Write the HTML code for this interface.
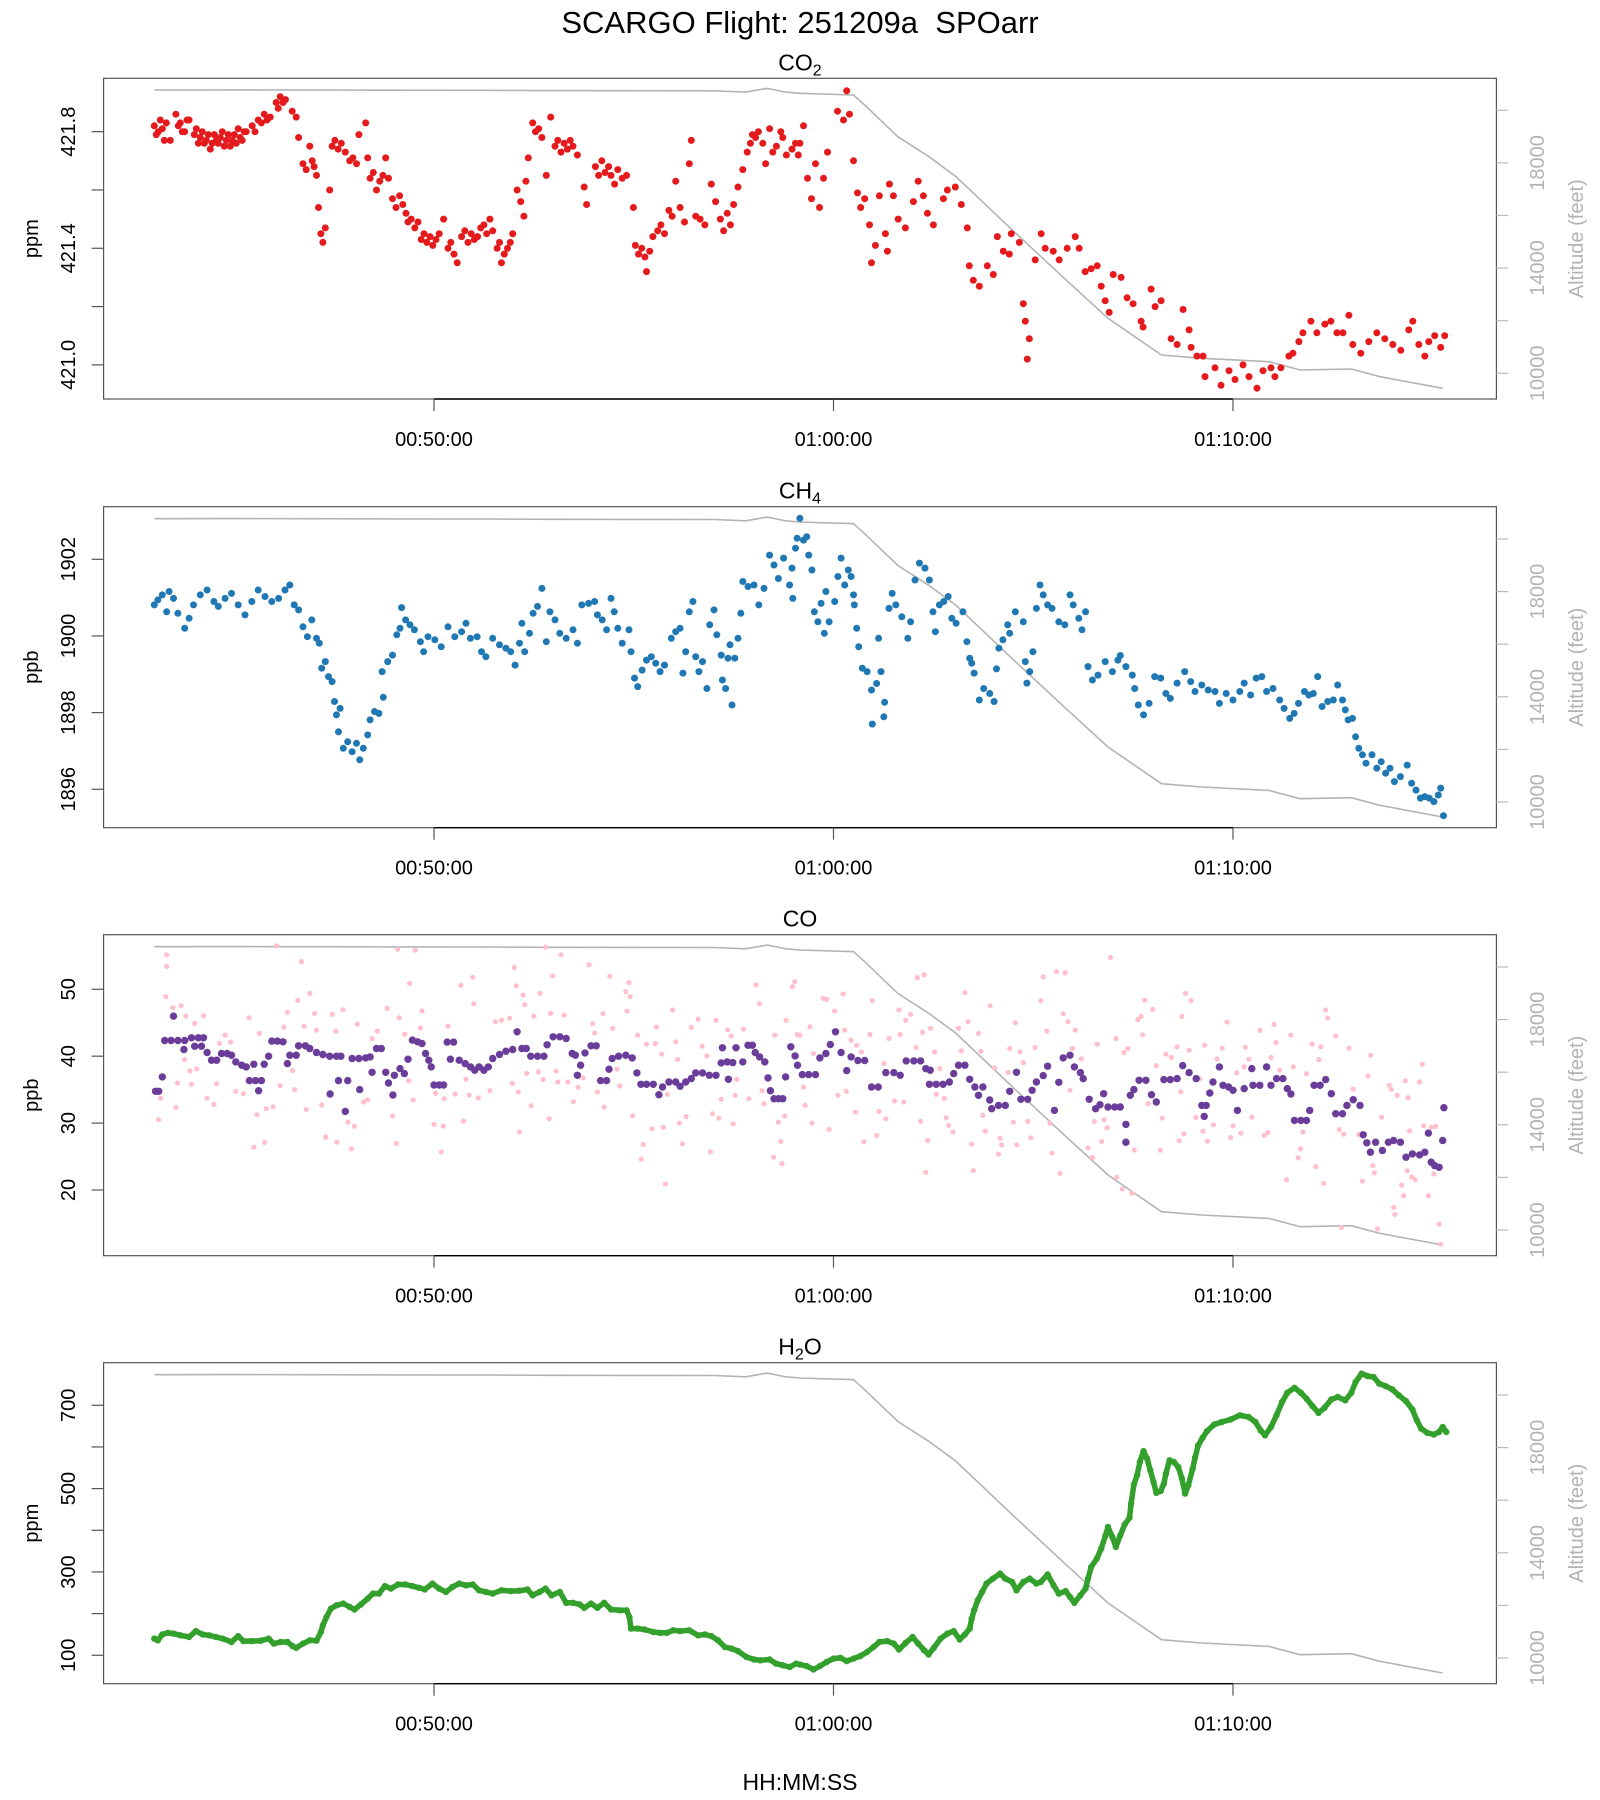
<!DOCTYPE html>
<html><head><meta charset="utf-8"><style>
html,body{margin:0;padding:0;background:#fff;}
svg{display:block;font-family:"Liberation Sans",Arial,sans-serif;}
</style></head><body>
<svg id="chart" width="1600" height="1800" viewBox="0 0 1600 1800" xmlns="http://www.w3.org/2000/svg">
<rect x="0" y="0" width="1600" height="1800" fill="#fff"/>
<text x="800" y="33" font-size="31" text-anchor="middle" fill="#000">SCARGO Flight: 251209a&#160; SPOarr</text>
<text x="800" y="1790" font-size="23" text-anchor="middle" fill="#000">HH:MM:SS</text>
<g id="layer"></g>
</svg>
<script>
// ---- altitude (shared) ----
const altTimes=[43.0,45.0,47.0,49.0,51.0,53.0,55.0,57.0,57.8,58.34,58.8,59.16,60.5,60.78,61.61,62.39,63.07,64.52,65.87,66.87,68.21,69.22,70.9,71.68,72.96,73.68,75.25];
const altFeet=[20771,20775,20770,20765,20760,20750,20745,20740,20690,20830,20690,20646,20581,20201,18996,18235,17475,15384,13483,12091,10696,10570,10441,10125,10163,9871,9430];
// ---- CO2 ----
const co2Times=[43.00,43.05,43.10,43.15,43.20,43.25,43.30,43.40,43.54,43.60,43.65,43.70,43.76,43.82,43.87,44.00,44.05,44.10,44.15,44.20,44.25,44.30,44.35,44.40,44.45,44.50,44.55,44.60,44.65,44.70,44.75,44.80,44.85,44.90,44.95,45.00,45.05,45.10,45.15,45.20,45.25,45.30,45.45,45.52,45.60,45.68,45.75,45.82,45.90,46.05,46.10,46.15,46.22,46.28,46.45,46.55,46.61,46.72,46.80,46.89,46.95,47.00,47.06,47.11,47.17,47.22,47.28,47.39,47.45,47.52,47.60,47.68,47.78,47.89,47.97,48.06,48.12,48.29,48.34,48.40,48.48,48.56,48.64,48.72,48.79,48.86,48.96,49.05,49.14,49.22,49.30,49.35,49.43,49.52,49.60,49.68,49.75,49.82,49.90,49.97,50.05,50.13,50.24,50.35,50.42,50.50,50.58,50.69,50.77,50.85,50.93,51.01,51.09,51.17,51.25,51.32,51.40,51.47,51.58,51.64,51.69,51.76,51.84,51.91,51.97,52.08,52.17,52.25,52.30,52.36,52.47,52.54,52.62,52.70,52.81,52.92,53.03,53.10,53.18,53.26,53.34,53.41,53.48,53.59,53.76,53.82,54.04,54.12,54.20,54.28,54.37,54.43,54.52,54.60,54.71,54.82,54.99,
55.04,55.12,55.20,55.32,55.28,55.40,55.48,55.60,55.68,55.77,55.88,55.96,56.05,56.16,56.27,56.39,56.44,56.55,56.66,56.78,56.94,57.05,57.17,57.25,57.34,57.42,57.50,57.61,57.73,57.84,57.92,57.97,58.05,58.12,58.23,58.30,58.40,58.48,58.57,58.68,58.73,58.82,58.96,59.05,59.12,
59.16,59.25,59.35,59.45,59.55,59.65,59.75,59.85,60.10,60.33,60.25,60.40,60.50,60.60,60.68,60.78,60.90,60.95,61.05,61.15,61.30,61.35,61.40,61.50,61.62,61.80,62.00,62.12,62.25,62.35,62.50,62.75,62.85,63.05,63.20,63.35,63.40,63.50,63.65,63.85,64.00,64.10,64.25,64.40,64.45,64.65,64.75,64.80,64.90,64.85,65.05,65.20,65.30,65.50,65.65,65.85,66.05,66.15,66.30,66.45,66.60,66.70,66.80,66.90,67.00,67.20,67.35,67.50,67.70,67.75,67.95,68.05,68.20,68.45,68.60,68.75,68.90,68.95,69.25,69.30,69.10,69.55,69.70,69.90,70.05,70.25,70.40,70.60,70.75,70.95,71.05,71.20,71.40,71.50,71.65,71.75,71.95,72.10,72.30,72.45,72.60,72.75,72.90,73.00,73.20,73.40,73.60,73.80,74.00,74.20,74.40,74.50,74.65,74.80,74.90,75.05,75.20,75.30];
const co2Values=[421.82,421.79,421.80,421.84,421.81,421.77,421.83,421.77,421.86,421.82,421.83,421.80,421.80,421.84,421.84,421.79,421.81,421.76,421.78,421.80,421.76,421.77,421.79,421.74,421.76,421.79,421.77,421.76,421.78,421.80,421.75,421.77,421.79,421.75,421.77,421.79,421.76,421.81,421.78,421.77,421.80,421.80,421.82,421.80,421.84,421.83,421.86,421.84,421.85,421.90,421.88,421.92,421.90,421.91,421.87,421.85,421.78,421.69,421.67,421.75,421.70,421.68,421.65,421.54,421.45,421.42,421.47,421.60,421.75,421.77,421.74,421.76,421.73,421.70,421.71,421.69,421.79,421.83,421.71,421.64,421.66,421.60,421.63,421.65,421.71,421.64,421.57,421.54,421.58,421.55,421.52,421.49,421.50,421.47,421.49,421.43,421.45,421.42,421.44,421.41,421.43,421.45,421.50,421.40,421.42,421.38,421.35,421.44,421.46,421.42,421.45,421.43,421.44,421.47,421.48,421.45,421.50,421.46,421.40,421.42,421.35,421.38,421.40,421.42,421.45,421.60,421.56,421.51,421.63,421.71,421.83,421.80,421.81,421.78,421.65,421.85,421.75,421.77,421.73,421.76,421.74,421.77,421.75,421.72,421.61,421.55,421.68,421.65,421.70,421.66,421.68,421.65,421.62,421.67,421.64,421.65,421.54,
421.41,421.38,421.40,421.32,421.37,421.39,421.44,421.46,421.48,421.45,421.53,421.51,421.63,421.54,421.49,421.69,421.77,421.51,421.50,421.48,421.62,421.56,421.50,421.46,421.52,421.48,421.55,421.61,421.67,421.73,421.76,421.79,421.78,421.80,421.76,421.69,421.81,421.73,421.75,421.80,421.78,421.72,421.74,421.76,421.72,
421.76,421.82,421.64,421.57,421.69,421.54,421.64,421.73,421.87,421.94,421.84,421.86,421.70,421.59,421.54,421.57,421.48,421.35,421.41,421.58,421.45,421.39,421.62,421.58,421.50,421.47,421.56,421.63,421.58,421.52,421.48,421.57,421.60,421.61,421.55,421.47,421.34,421.29,421.27,421.34,421.31,421.44,421.39,421.38,421.45,421.42,421.21,421.15,421.09,421.02,421.36,421.45,421.40,421.39,421.36,421.40,421.44,421.40,421.32,421.33,421.34,421.27,421.22,421.18,421.31,421.30,421.23,421.21,421.15,421.13,421.26,421.20,421.22,421.09,421.07,421.19,421.12,421.06,421.03,420.96,421.03,420.99,420.93,420.98,420.95,421.00,420.96,420.92,420.98,420.99,420.96,420.99,421.03,421.04,421.08,421.11,421.15,421.11,421.14,421.15,421.11,421.11,421.17,421.07,421.04,421.08,421.11,421.09,421.07,421.05,421.12,421.15,421.07,421.03,421.08,421.10,421.06,421.10];
// ---- CH4 ----
const ch4Times=[43.00,43.09,43.20,43.31,43.37,43.48,43.59,43.76,43.87,43.98,44.15,44.32,44.49,44.60,44.77,44.93,45.10,45.27,45.44,45.60,45.77,45.94,46.11,46.27,46.39,46.50,46.61,46.72,46.83,46.94,47.06,47.13,47.19,47.28,47.36,47.45,47.51,47.56,47.65,47.61,47.73,47.84,47.95,48.06,48.14,48.23,48.34,48.40,48.51,48.62,48.73,48.70,48.84,48.96,49.07,49.15,49.19,49.29,49.40,49.51,49.66,49.74,49.85,50.02,50.18,50.35,50.52,50.69,50.80,50.91,51.08,51.19,51.30,51.47,51.64,51.80,51.92,52.03,52.14,52.20,52.27,52.39,52.48,52.59,52.70,52.81,52.90,53.03,53.15,53.31,53.48,53.59,53.70,53.87,54.02,54.09,54.21,54.32,54.43,54.51,54.60,54.71,54.88,54.93,55.02,55.10,55.21,55.32,55.44,55.55,55.66,55.77,55.94,56.05,56.16,56.23,56.30,56.39,56.48,56.55,56.63,56.72,56.83,56.90,57.01,57.08,57.19,57.22,57.30,57.36,57.41,57.46,57.53,57.61,57.68,57.73,57.86,58.01,58.13,58.26,58.40,58.51,58.62,58.75,58.90,58.96,58.98,59.05,59.09,
59.16,59.25,59.33,59.38,59.46,59.52,59.61,59.69,59.77,59.81,59.89,60.03,60.11,60.19,60.28,60.37,60.44,60.50,60.52,60.58,60.63,60.72,60.84,60.95,60.97,61.08,61.13,61.19,61.28,61.26,61.39,61.47,61.56,61.71,61.86,61.93,62.04,62.15,62.29,62.40,62.49,62.55,62.65,62.76,62.87,62.96,63.07,63.24,63.34,63.41,63.46,63.52,63.65,63.76,63.91,64.02,64.08,64.14,64.24,64.36,64.41,64.55,64.75,64.80,64.84,64.91,64.99,65.08,65.17,65.25,65.36,65.47,65.64,65.79,65.92,66.00,66.14,66.22,66.31,66.37,66.48,66.62,66.80,66.98,67.12,67.18,67.32,67.48,67.54,67.63,67.76,67.90,68.04,68.19,68.32,68.43,68.60,68.79,68.94,69.05,69.22,69.38,69.55,69.66,69.83,70.00,70.17,70.28,70.44,70.58,70.72,70.84,71.00,71.17,71.28,71.42,71.53,71.64,71.79,71.90,72.01,72.12,72.23,72.37,72.51,72.62,72.74,72.81,72.88,72.99,73.07,73.15,73.24,73.33,73.48,73.60,73.71,73.82,73.93,74.04,74.19,74.36,74.47,74.58,74.69,74.80,74.91,75.03,75.14,75.20,75.27];
const ch4Values=[1900.81,1900.94,1901.07,1900.63,1901.16,1900.98,1900.59,1900.20,1900.46,1900.81,1901.07,1901.20,1900.90,1900.77,1900.98,1901.11,1900.81,1900.55,1900.90,1901.20,1901.03,1900.90,1900.98,1901.20,1901.33,1900.81,1900.68,1900.24,1899.98,1900.42,1899.94,1899.81,1899.16,1899.33,1898.94,1898.81,1898.29,1897.94,1898.11,1897.50,1897.07,1897.24,1896.98,1897.20,1896.77,1897.07,1897.42,1897.81,1898.03,1897.98,1898.40,1899.07,1899.33,1899.50,1900.03,1900.20,1900.74,1900.42,1900.29,1900.16,1899.85,1899.59,1899.98,1899.90,1899.72,1900.24,1899.98,1900.11,1900.33,1899.94,1899.98,1899.59,1899.46,1899.94,1899.77,1899.68,1899.59,1899.24,1899.81,1900.33,1899.59,1900.07,1900.59,1900.77,1901.24,1899.85,1900.63,1900.42,1900.07,1899.94,1900.16,1899.81,1900.81,1900.85,1900.90,1900.55,1900.42,1900.16,1900.98,1900.63,1900.20,1899.81,1900.16,1899.59,1898.90,1898.68,1899.11,1899.37,1899.46,1899.29,1899.07,1899.24,1899.94,1900.11,1900.20,1899.03,1899.59,1900.63,1900.90,1899.46,1899.07,1899.33,1898.63,1900.29,1900.68,1900.03,1899.50,1898.85,1898.63,1899.42,1899.77,1898.20,1899.42,1899.94,1900.59,1901.42,1901.29,1901.33,1900.81,1901.24,1902.11,1901.85,1901.50,1902.03,1901.33,1901.77,1900.98,1902.29,1902.55,
1903.07,1902.50,1902.59,1902.11,1901.72,1900.63,1900.37,1900.85,1900.07,1901.16,1900.37,1900.90,1901.55,1902.03,1901.33,1901.72,1901.55,1901.07,1900.81,1900.20,1899.72,1899.16,1899.07,1898.59,1897.70,1898.76,1899.94,1899.07,1898.27,1897.89,1900.72,1901.11,1900.81,1900.50,1899.94,1900.37,1901.46,1901.90,1901.77,1901.46,1900.63,1900.11,1900.81,1900.90,1901.03,1900.46,1900.33,1900.63,1899.85,1899.42,1899.29,1899.03,1898.33,1898.63,1898.50,1898.29,1899.14,1899.68,1899.90,1900.29,1900.07,1900.63,1900.37,1899.33,1898.77,1899.07,1899.59,1900.72,1901.33,1901.07,1900.81,1900.72,1900.37,1900.29,1901.07,1900.81,1900.46,1900.16,1900.63,1899.20,1898.85,1898.98,1899.33,1899.07,1899.37,1899.49,1899.20,1898.98,1898.63,1898.20,1897.94,1898.24,1898.94,1898.90,1898.50,1898.37,1898.77,1899.07,1898.81,1898.55,1898.72,1898.59,1898.55,1898.24,1898.50,1898.33,1898.55,1898.77,1898.46,1898.90,1898.94,1898.55,1898.63,1898.33,1898.11,1897.85,1897.98,1898.24,1898.55,1898.46,1898.50,1898.94,1898.16,1898.29,1898.33,1898.72,1898.33,1898.07,1897.81,1897.85,1897.37,1897.07,1896.90,1896.68,1896.90,1896.55,1896.72,1896.42,1896.55,1896.20,1896.33,1896.63,1896.16,1895.98,1895.77,1895.81,1895.77,1895.68,1895.85,1896.03,1895.31];
// ---- CO (1 Hz, pink) ----
const coRawTimes=[43.31,43.31,43.29,43.46,43.67,43.79,44.01,44.23,43.11,43.16,43.54,43.58,43.76,43.89,43.93,44.06,44.32,44.49,44.56,44.63,44.77,44.91,45.04,45.23,45.37,45.49,45.57,45.63,45.76,45.80,45.97,46.06,46.15,46.24,46.33,46.46,46.51,46.59,46.68,46.75,46.80,46.89,47.01,47.06,47.19,47.29,47.46,47.54,47.57,47.72,47.85,47.93,48.01,48.08,48.24,48.34,48.45,48.58,48.83,48.96,49.06,49.09,49.13,49.27,49.37,49.39,49.48,49.53,49.66,49.70,50.00,50.04,50.18,50.23,50.26,50.35,50.53,50.67,50.74,50.80,50.88,50.97,51.00,51.11,51.40,51.54,51.69,51.89,51.96,52.01,52.06,52.11,52.14,52.23,52.27,52.32,52.43,52.50,52.61,52.65,52.73,52.79,52.88,52.92,52.97,53.06,53.10,53.18,53.26,53.35,53.49,53.61,53.73,53.88,53.97,54.02,54.09,54.23,54.26,54.40,54.47,54.58,54.65,54.80,54.83,54.88,54.91,54.97,55.10,55.19,55.24,55.32,55.46,55.54,55.57,55.70,55.74,55.79,55.84,55.97,56.05,56.10,56.14,56.22,56.31,56.44,56.61,56.71,56.83,56.92,56.97,57.06,57.13,57.19,57.35,57.44,57.49,57.54,57.58,57.75,57.88,58.06,58.15,58.21,58.26,58.50,58.53,58.62,58.68,58.71,58.78,58.81,58.97,59.03,59.09,
59.16,59.25,59.29,59.41,59.46,59.50,59.74,59.83,59.89,60.03,60.11,60.24,60.28,60.32,60.44,60.55,60.58,60.70,60.76,60.91,60.97,61.08,61.14,61.26,61.31,61.39,61.53,61.64,61.67,61.76,61.81,61.93,62.07,62.10,62.18,62.23,62.27,62.31,62.36,62.43,62.53,62.57,62.66,62.77,62.82,62.88,62.99,63.13,63.20,63.29,63.37,63.46,63.50,63.63,63.69,63.74,63.80,63.92,64.03,64.13,64.17,64.21,64.37,64.41,64.50,64.55,64.59,64.67,64.75,64.86,64.94,65.05,65.19,65.25,65.34,65.42,65.47,65.58,65.67,65.75,65.80,65.87,65.92,65.98,66.05,66.20,66.37,66.48,66.53,66.60,66.71,66.77,66.85,66.93,67.07,67.09,67.23,67.27,67.37,67.47,67.53,67.62,67.70,67.74,67.79,67.88,67.99,68.08,68.18,68.23,68.32,68.46,68.60,68.65,68.69,68.72,68.77,68.81,68.90,68.95,69.07,69.17,69.25,69.29,69.36,69.51,69.60,69.73,69.85,69.94,70.00,70.09,70.20,70.28,70.31,70.40,70.47,70.67,70.78,70.87,70.95,71.03,71.08,71.17,71.34,71.45,71.51,71.63,71.69,71.75,71.84,71.98,72.07,72.15,72.20,72.27,72.32,72.37,72.57,72.66,72.71,72.77,72.90,73.01,73.15,73.24,73.38,73.45,73.50,73.54,73.62,73.72,73.91,73.96,74.02,74.05,74.11,74.22,74.27,74.31,74.36,74.38,74.42,74.47,74.56,74.67,74.74,74.77,74.89,74.96,75.03,75.07,75.16,75.20];
const coRawValues=[55.15,53.4,48.9,47.25,47.55,46.0,44.9,46.05,30.5,33.7,32.35,36.0,39.5,37.8,35.8,38.1,33.7,32.8,35.9,41.9,43.15,42.1,34.75,34.4,45.75,26.4,31.25,43.4,27.1,32.15,32.45,56.5,35.6,44.35,46.55,37.85,35.0,48.35,54.15,44.5,32.05,49.4,46.4,43.9,32.7,27.9,46.25,43.75,27.15,46.95,30.15,26.15,29.5,44.8,33.15,33.5,42.65,43.75,47.15,31.05,26.95,56.0,45.75,43.3,36.3,50.9,33.45,55.85,44.2,46.75,29.8,34.45,25.7,29.55,33.65,44.5,34.35,50.6,30.3,36.55,34.2,51.8,47.85,33.75,34.85,45.15,45.4,45.7,35.95,53.25,50.5,34.65,28.65,49.15,47.7,37.45,32.6,46.0,37.65,49.4,36.5,56.3,30.65,46.4,52.0,37.75,36.15,55.15,46.15,36.15,33.2,35.35,36.75,53.65,44.85,43.45,34.65,46.35,32.4,51.95,44.15,38.05,35.55,49.65,46.75,51.0,48.9,31.1,43.15,24.6,26.8,41.8,29.15,41.9,44.35,40.3,29.35,20.9,34.3,46.9,42.15,39.5,30.0,26.9,30.95,44.3,45.55,41.5,40.05,25.7,31.4,45.35,30.75,33.55,43.95,43.05,29.9,34.15,36.55,44.05,33.65,50.65,47.85,34.85,32.9,24.9,43.15,30.15,27.25,23.95,31.05,45.35,50.4,51.15,43.25,
43.15,35.4,32.65,44.4,30.0,40.4,48.65,48.5,29.05,46.75,34.15,49.3,43.9,34.75,42.4,31.65,41.65,40.65,27.2,43.25,48.3,28.15,31.75,38.9,30.65,42.65,33.3,46.9,43.25,33.15,45.35,46.25,41.3,51.75,30.25,43.55,52.15,22.65,27.4,44.15,40.65,34.3,38.15,33.7,30.8,29.65,28.65,44.15,40.8,49.5,45.15,26.85,22.9,43.4,40.75,31.15,28.8,47.55,38.25,25.35,27.75,26.75,37.6,41.15,30.15,45.0,26.75,40.65,39.05,30.25,27.8,41.3,48.3,51.85,43.75,30.0,25.5,52.65,22.5,46.35,52.45,45.15,34.9,41.15,43.9,39.6,26.3,24.85,30.25,41.8,27.25,30.5,29.3,54.75,42.65,21.9,20.15,40.55,41.15,19.5,26.0,45.5,45.95,43.2,48.35,32.9,47.0,38.6,25.95,30.75,40.3,39.8,41.4,27.35,34.7,45.95,28.4,49.4,40.9,48.3,30.85,36.6,28.8,41.65,27.3,29.75,39.6,41.2,45.1,27.85,29.6,37.5,28.5,38.4,41.35,39.55,30.9,43.85,28.15,28.6,39.8,44.75,42.05,37.9,21.55,43.15,38.4,24.8,26.15,28.7,37.4,41.8,23.5,39.5,41.4,21.0,46.9,45.7,43.05,29.05,14.4,28.35,41.2,35.1,28.3,21.35,37.05,40.15,23.65,22.55,14.2,30.9,35.65,35.05,17.4,16.35,34.15,20.75,19.15,36.3,22.85,33.8,28.85,21.95,21.55,36.15,38.8,29.6,19.15,29.4,22.4,29.5,14.9,11.9];
// ---- CO (averaged, purple) ----
const coAvgTimes=[43.03,43.11,43.20,43.48,43.26,43.42,43.59,43.76,43.74,43.93,44.10,44.23,44.01,44.18,44.32,44.43,44.56,44.68,44.82,44.93,45.04,45.19,45.30,45.38,45.53,45.68,45.61,45.49,45.75,45.86,45.94,46.08,46.22,46.33,46.39,46.55,46.61,46.78,46.89,47.06,47.22,47.39,47.56,47.67,47.40,47.61,47.84,47.78,47.95,48.12,48.29,48.40,48.14,48.45,48.56,48.68,48.79,48.86,48.97,49.01,49.15,49.26,49.35,49.46,49.59,49.70,49.79,49.87,49.93,50.00,50.13,50.24,50.33,50.49,50.41,50.63,50.78,50.91,51.02,51.13,51.25,51.36,51.47,51.64,51.80,51.97,52.08,52.20,52.31,52.42,52.59,52.75,52.83,52.98,53.15,53.31,53.46,53.54,53.59,53.67,53.78,53.93,54.06,54.17,54.32,54.38,54.46,54.62,54.80,54.96,55.08,55.18,55.32,55.49,55.63,55.72,55.88,56.05,56.16,56.30,56.44,56.55,56.72,56.89,57.06,57.22,57.19,57.37,57.34,57.48,57.56,57.73,57.86,57.97,58.04,58.15,58.28,58.36,58.42,58.51,58.62,58.73,58.80,58.93,59.04,59.10,
59.22,59.38,59.55,59.66,59.81,59.92,60.05,60.19,60.33,60.44,60.61,60.78,60.95,61.12,61.31,61.51,61.67,61.82,62.01,62.18,62.31,62.42,62.40,62.57,62.74,62.90,63.01,63.13,63.29,63.41,63.54,63.63,63.74,63.91,63.96,64.13,64.30,64.41,64.58,64.69,64.86,64.97,65.08,65.25,65.36,65.53,65.64,65.75,65.92,66.03,66.18,66.25,66.40,66.56,66.67,66.76,66.87,67.04,67.18,67.32,67.32,67.43,67.52,67.65,67.82,67.96,68.08,68.27,68.43,68.60,68.74,68.90,69.08,69.22,69.33,69.28,69.42,69.50,69.66,69.75,69.89,70.00,70.11,70.28,70.47,70.50,70.67,70.84,70.95,71.09,71.25,71.36,71.45,71.54,71.70,71.84,71.92,72.03,72.18,72.32,72.46,72.57,72.74,72.85,73.01,73.18,73.26,73.35,73.44,73.57,73.74,73.89,74.02,74.19,74.33,74.49,74.67,74.80,74.89,74.96,75.05,75.16,75.25,75.28];
const coAvgValues=[34.75,34.75,36.9,46.0,42.35,42.35,42.35,42.35,41.0,42.75,42.75,42.75,41.5,41.5,40.55,39.4,39.4,40.4,40.4,40.15,39.15,38.65,38.4,36.35,36.35,36.35,34.85,38.8,38.8,40.0,42.25,42.25,42.15,38.9,40.15,40.15,41.55,41.55,41.15,40.55,40.25,40.0,40.0,40.0,34.35,36.35,36.35,31.75,39.65,39.65,39.75,39.9,35.0,37.6,41.15,41.15,37.6,36.0,34.2,37.15,38.15,37.4,39.55,42.4,42.15,41.9,40.4,39.4,38.4,35.7,35.7,35.7,42.1,42.1,39.55,39.4,38.9,38.4,37.9,38.4,37.9,38.4,39.65,40.25,40.75,41.0,43.65,41.15,41.15,40.0,40.0,40.0,41.7,42.9,42.9,42.65,40.4,40.15,37.15,38.65,40.5,41.55,41.55,36.35,36.35,38.05,39.65,40.0,40.15,39.75,37.5,35.8,35.8,35.8,34.25,35.4,36.15,36.15,35.5,36.15,36.65,37.5,37.5,37.15,37.15,41.25,39.0,36.55,39.15,39.05,41.25,39.15,41.65,41.65,40.55,39.9,39.15,36.75,34.85,33.65,33.65,33.65,36.9,41.4,40.05,38.65,
37.25,37.25,37.25,39.75,40.4,41.75,43.65,40.55,37.85,39.9,39.35,39.35,35.4,35.4,37.55,37.55,37.15,39.3,39.3,39.3,38.15,37.9,35.8,35.8,35.8,36.15,37.4,38.65,38.65,36.55,35.4,34.15,35.4,33.45,32.15,32.65,32.65,34.75,37.6,33.55,33.55,34.9,36.15,37.1,38.5,31.9,36.1,39.75,40.15,38.4,37.55,36.65,33.55,32.15,32.75,34.4,32.4,32.4,32.4,29.8,27.15,34.15,35.0,36.4,36.4,34.25,33.15,36.5,36.5,36.65,38.6,37.55,36.65,32.65,32.65,31.0,34.5,36.15,38.4,35.65,35.4,34.9,31.9,35.15,38.15,35.65,35.65,38.4,35.65,36.65,36.65,35.15,34.35,30.4,30.4,30.4,31.9,35.65,35.65,36.5,34.4,31.4,31.4,32.65,33.5,32.65,28.25,27.05,25.65,27.15,25.9,27.15,27.4,27.15,24.9,25.4,25.25,25.65,28.5,24.15,23.65,23.4,27.4,32.3];
// ---- H2O ----
const h2oTimes=[43.00,43.09,43.20,43.34,43.48,43.65,43.87,44.04,44.21,44.37,44.54,44.71,44.93,45.10,45.23,45.44,45.66,45.86,45.99,46.16,46.33,46.46,46.55,46.72,46.89,47.06,47.17,47.22,47.31,47.42,47.56,47.73,47.89,48.01,48.17,48.34,48.47,48.62,48.77,48.92,49.10,49.29,49.46,49.63,49.77,49.96,50.13,50.30,50.46,50.63,50.80,50.97,51.13,51.30,51.47,51.69,51.92,52.14,52.34,52.47,52.64,52.79,52.94,53.15,53.31,53.48,53.65,53.76,53.93,54.09,54.26,54.43,54.65,54.82,54.89,54.93,55.10,55.27,55.49,55.66,55.83,55.99,56.16,56.39,56.61,56.78,56.94,57.11,57.28,57.45,57.61,57.82,58.01,58.17,58.40,58.56,58.73,58.90,59.07,
59.16,59.33,59.50,59.66,59.83,60.00,60.17,60.33,60.50,60.67,60.84,61.00,61.15,61.34,61.51,61.64,61.81,61.98,62.12,62.27,62.38,62.51,62.68,62.85,63.01,63.16,63.29,63.41,63.46,63.52,63.61,63.72,63.83,63.99,64.17,64.30,64.47,64.58,64.75,64.91,65.08,65.19,65.36,65.51,65.64,65.81,65.92,66.03,66.18,66.31,66.37,66.45,66.59,66.70,66.81,66.87,66.98,67.07,67.18,67.29,67.41,67.45,67.52,67.60,67.67,67.76,67.85,67.93,68.01,68.08,68.19,68.27,68.32,68.41,68.52,68.63,68.72,68.80,68.88,68.99,69.05,69.13,69.24,69.35,69.53,69.72,69.94,70.17,70.39,70.56,70.69,70.80,70.95,71.09,71.23,71.36,71.54,71.70,71.84,71.99,72.14,72.29,72.46,72.62,72.81,72.96,73.07,73.22,73.37,73.52,73.66,73.82,73.99,74.15,74.33,74.49,74.60,74.71,74.86,75.03,75.16,75.25,75.34];
const h2oValues=[140,136,150,154,152,148,144,158,150,148,144,140,132,146,134,134,135,140,128,132,132,122,118,128,136,135,156,172,192,212,220,224,216,210,222,236,248,248,266,260,270,270,266,262,258,272,260,252,264,272,268,270,256,252,248,256,254,255,258,244,252,260,244,252,226,226,222,214,224,214,226,210,208,208,192,164,164,162,156,154,154,160,158,160,148,150,146,136,120,116,110,96,90,88,90,80,76,72,80,
78,74,66,74,84,92,94,86,92,98,108,120,132,134,128,114,130,144,128,112,102,118,140,152,158,138,150,164,188,208,232,252,272,284,296,284,276,256,276,284,272,276,294,268,248,254,240,226,244,260,284,312,332,356,388,408,384,360,388,414,430,464,510,532,564,590,572,544,516,490,494,512,536,568,564,552,524,488,508,548,574,604,622,638,654,660,666,676,672,660,640,628,648,676,708,730,742,730,716,698,682,694,714,720,712,730,756,776,770,768,752,746,738,724,710,690,664,644,634,630,636,648,636];

// ---- layout ----
const NS="http://www.w3.org/2000/svg";
const layer=document.getElementById('layer');
const X0=103.6,X1=1496.4;
function xScale(t){return 434+(t-50)*39.95;}
function mk(tag,attrs,parent){const e=document.createElementNS(NS,tag);for(const k in attrs)e.setAttribute(k,attrs[k]);(parent||layer).appendChild(e);return e;}
function altY(p,a){return p.bottom-25.7-(a-10000)/38.02;}

const panels=[
 {key:'co2',top:78.3,bottom:399,ymin:420.883,ymax:421.983,ticks:[421.0,421.2,421.4,421.6,421.8],labels:['421.0','','421.4','','421.8'],unit:'ppm',title:['CO','2','']},
 {key:'ch4',top:506.7,bottom:827.7,ymin:1894.998,ymax:1903.372,ticks:[1896,1898,1900,1902],labels:['1896','1898','1900','1902'],unit:'ppb',title:['CH','4','']},
 {key:'co',top:934.7,bottom:1255.7,ymin:10.18,ymax:58.16,ticks:[20,30,40,50],labels:['20','30','40','50'],unit:'ppb',title:['CO','','']},
 {key:'h2o',top:1362.7,bottom:1683.7,ymin:31.8,ymax:802.2,ticks:[100,200,300,400,500,600,700],labels:['100','','300','','500','','700'],unit:'ppm',title:['H','2','O']}
];
const altTicks=[10000,12000,14000,16000,18000,20000];
const altLabels=['10000','','14000','','18000',''];
const xTicks=[50,60,70];
const xLabels=['00:50:00','01:00:00','01:10:00'];

panels.forEach(p=>{
  const g=mk('g',{});
  
  
  const yS=v=>p.top+(p.ymax-v)/(p.ymax-p.ymin)*(p.bottom-p.top);
  const tt=mk('text',{x:800,y:p.top-8,'font-size':23,'text-anchor':'middle',fill:'#000'},g);
  
  
  tt.appendChild(document.createTextNode(p.title[0]));
  if(p.title[1]){const s=mk('tspan',{'font-size':16,dy:5},tt);s.textContent=p.title[1];}
  if(p.title[2]){const s=mk('tspan',{dy:-5},tt);s.textContent=p.title[2];}
  let d='';
  altTimes.forEach((t,i)=>{d+=(i?'L':'M')+xScale(t).toFixed(1)+','+altY(p,altFeet[i]).toFixed(1);});
  const al=mk('path',{d:d,fill:'none',stroke:'#b3b3b3','stroke-width':1.6},g);
  
  
  const dg=mk('g',{},g);
  
  
  function dots(times,vals,col,r,name){
    times.forEach((t,i)=>{
      const c=mk('circle',{cx:xScale(t).toFixed(1),cy:yS(vals[i]).toFixed(1),r:r,fill:col},dg);
      
      
    });
  }
  if(p.key==='co2')dots(co2Times,co2Values,'#e41a1c',3.5,'co2-point');
  if(p.key==='ch4')dots(ch4Times,ch4Values,'#1f78b4',3.5,'ch4-point');
  if(p.key==='co'){dots(coRawTimes,coRawValues,'#ffc0cb',2.6,'co-raw-point');dots(coAvgTimes,coAvgValues,'#6a3d9a',3.7,'co-avg-point');}
  if(p.key==='h2o'){
    let pd='';
    h2oTimes.forEach((t,i)=>{pd+=(i?'L':'M')+xScale(t).toFixed(1)+','+yS(h2oValues[i]).toFixed(1);});
    const hl=mk('path',{d:pd,fill:'none',stroke:'#33a02c','stroke-width':5.5,'stroke-linejoin':'round','stroke-linecap':'round'},dg);
    
    
    dots(h2oTimes,h2oValues,'#33a02c',3.2,'h2o-point');
  }
  const bx=mk('rect',{x:X0,y:p.top,width:X1-X0,height:p.bottom-p.top,fill:'none',stroke:'#555','stroke-width':1.2},g);
  
  
  const xa=mk('line',{x1:xScale(50),x2:xScale(70),y1:p.bottom,y2:p.bottom,stroke:'#000','stroke-width':1.4},g);
  
  
  xTicks.forEach((t,i)=>{
    const x=xScale(t);
    mk('line',{x1:x,x2:x,y1:p.bottom,y2:p.bottom+12,stroke:'#555','stroke-width':1.2},g);
    const l=mk('text',{x:x,y:p.bottom+47,'font-size':20,'text-anchor':'middle',fill:'#000'},g);
    
    
    l.textContent=xLabels[i];
  });
  p.ticks.forEach((v,i)=>{
    const y=yS(v);
    mk('line',{x1:X0-12,x2:X0,y1:y,y2:y,stroke:'#555','stroke-width':1.2},g);
    if(p.labels[i]){
      const l=mk('text',{x:0,y:0,'font-size':20,'text-anchor':'middle',fill:'#000',transform:'translate(75,'+y.toFixed(1)+') rotate(-90)'},g);
      
      
      l.textContent=p.labels[i];
    }
  });
  const yt=mk('text',{x:0,y:0,'font-size':20,'text-anchor':'middle',fill:'#000',transform:'translate(38,'+((p.top+p.bottom)/2).toFixed(1)+') rotate(-90)'},g);
  
  
  yt.textContent=p.unit;
  altTicks.forEach((a,i)=>{
    const y=altY(p,a);
    mk('line',{x1:X1,x2:X1+12,y1:y,y2:y,stroke:'#bbbbbb','stroke-width':1.2},g);
    if(altLabels[i]){
      const l=mk('text',{x:0,y:0,'font-size':20,'text-anchor':'middle',fill:'#b3b3b3',transform:'translate(1544,'+y.toFixed(1)+') rotate(-90)'},g);
      
      
      l.textContent=altLabels[i];
    }
  });
  const at=mk('text',{x:0,y:0,'font-size':20,'text-anchor':'middle',fill:'#b3b3b3',transform:'translate(1583,'+((p.top+p.bottom)/2).toFixed(1)+') rotate(-90)'},g);
  
  
  at.textContent='Altitude (feet)';
});
</script>
</body></html>
